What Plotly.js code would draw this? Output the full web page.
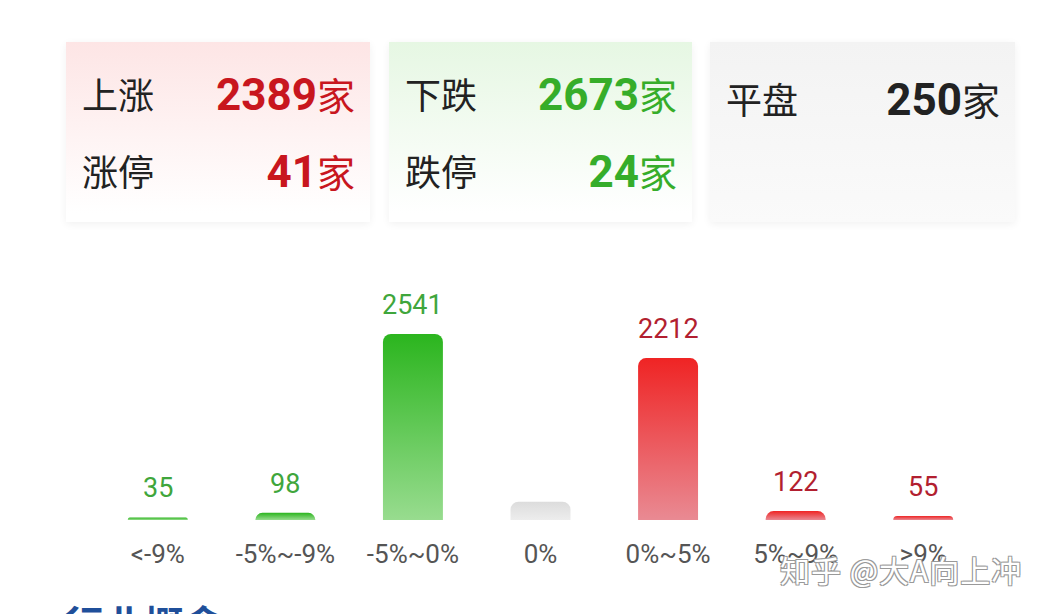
<!DOCTYPE html>
<html>
<head>
<meta charset="utf-8">
<script src="https://cdn.plot.ly/plotly-3.0.1.min.js"></script>
<style>
	html, body { margin: 0; padding: 0; background: #fff; }
	body { width: 1047px; height: 614px; position: relative; overflow: hidden; font-family: "Noto Sans CJK SC", "Noto Sans", sans-serif; }
	.card { position: absolute; top: 42px; height: 180px; box-shadow: 0 2px 8px rgba(0,0,0,0.06); }
	.card.up { left: 66px; width: 304px; background: linear-gradient(#fde5e5, #fff 95%); }
	.card.down { left: 389px; width: 303px; background: linear-gradient(#e6f7e3, #fff 95%); }
	.card.flat { left: 710px; width: 305px; background: linear-gradient(#f3f3f3, #fafafa); }
	.row { position: absolute; left: 16px; right: 15px; height: 50px; display: flex; justify-content: space-between; align-items: center; }
	.lbl { font-size: 36px; color: #222; }
	.num { font-family: Roboto, sans-serif; font-weight: 700; font-size: 44px; }
	.unit { font-size: 38px; }
	.red { color: #c8161e; }
	.green { color: #36ad2a; }
	.dark { color: #222; }
	#chart { position: absolute; left: 0; top: 0; width: 1047px; height: 614px; }
	.section { position: absolute; left: 64px; top: 594px; font-size: 40px; color: #1f4f9a; font-weight: 700; }
	.mark { position: absolute; left: 780px; top: 547px; font-size: 30px; color: #fff; letter-spacing: 1px;
		text-shadow: -1px -1px 0 #999, 1px -1px 0 #999, -1px 1px 0 #999, 1px 1px 0 #999; }
</style>
</head>
<body>
<div id="cards"></div>
<div id="chart"></div>
<div class="section">行业概念</div>
<div class="mark">知乎 @大A向上冲</div>
<script>
// Market breadth
const upCount = 2389, limitUpCount = 41;
const downCount = 2673, limitDownCount = 24;
const flatCount = 250;

// Distribution of price change
const categories = ["<-9%", "-5%~-9%", "-5%~0%", "0%", "0%~5%", "5%~9%", ">9%"];
const counts = [35, 98, 2541, 250, 2212, 122, 55];
const labelTexts = ["35", "98", "2541", "", "2212", "122", "55"];
const sides = ["down", "down", "down", "flat", "up", "up", "up"];

const barColors = { down: "#5cc452", flat: "#e2e2e2", up: "#ec4c55" };
const labelColors = { down: "#3fa63c", flat: "#999", up: "#b21f30" };
const gradients = {
	down: ["#2bb51e", "#98dc8f"],
	flat: ["#dcdcdc", "#ededed"],
	up: ["#ef2424", "#e98a93"],
};

function row(top, label, value, cls) {
	return '<div class="row" style="top:' + top + 'px"><span class="lbl">' + label + '</span>' +
		'<span class="' + cls + '"><span class="num">' + value + '</span><span class="unit">家</span></span></div>';
}

document.getElementById("cards").innerHTML =
	'<div class="card up">' + row(26, "上涨", upCount, "red") + row(103, "涨停", limitUpCount, "red") + '</div>' +
	'<div class="card down">' + row(26, "下跌", downCount, "green") + row(103, "跌停", limitDownCount, "green") + '</div>' +
	'<div class="card flat">' + row(31, "平盘", flatCount, "dark") + '</div>';

let data = [
		{
			x: categories,
			y: counts,
			type: "bar",
			marker: {
				color: sides.map((s) => barColors[s]),
				cornerradius: 8,
			},
			hoverinfo: "none",
		},
	],
	annotations = categories
		.map((c, i) => ({
			x: c,
			y: counts[i],
			text: labelTexts[i],
			showarrow: false,
			yanchor: "bottom",
			yshift: 11,
			font: { family: "Roboto, sans-serif", size: 27, color: labelColors[sides[i]] },
		}))
		.filter((a) => a.text !== ""),
	layout = {
		paper_bgcolor: "rgba(0,0,0,0)",
		plot_bgcolor: "rgba(0,0,0,0)",
		showlegend: false,
		bargap: 0.53,
		margin: { l: 94, r: 60, t: 250, b: 94, pad: 0 },
		xaxis: {
			type: "category",
			showgrid: false,
			zeroline: false,
			showline: false,
			ticks: "",
			ticklabelstandoff: 16,
			tickfont: { family: "Roboto, sans-serif", size: 26, color: "#555" },
			fixedrange: true,
		},
		yaxis: {
			range: [0, 3688],
			visible: false,
			showgrid: false,
			zeroline: false,
			fixedrange: true,
		},
		annotations: annotations,
		width: 1047,
		height: 614,
		font: { family: "Roboto, sans-serif" },
	};

Plotly.newPlot("chart", data, layout, { staticPlot: true }).then((gd) => {
	// bar gradients, top to bottom
	const svg = gd.querySelector(".main-svg");
	const ns = "http://www.w3.org/2000/svg";
	let defs = document.createElementNS(ns, "defs");
	Object.keys(gradients).forEach((k) => {
		let g = document.createElementNS(ns, "linearGradient");
		g.setAttribute("id", "grad-" + k);
		g.setAttribute("x1", "0"); g.setAttribute("y1", "0");
		g.setAttribute("x2", "0"); g.setAttribute("y2", "1");
		gradients[k].forEach((col, j) => {
			let st = document.createElementNS(ns, "stop");
			st.setAttribute("offset", j === 0 ? "0" : "1");
			st.setAttribute("stop-color", col);
			g.appendChild(st);
		});
		defs.appendChild(g);
	});
	svg.insertBefore(defs, svg.firstChild);
	gd.querySelectorAll(".bars .point path").forEach((p, i) => {
		p.style.fill = "url(#grad-" + sides[i] + ")";
	});
});
</script>
</body>
</html>
